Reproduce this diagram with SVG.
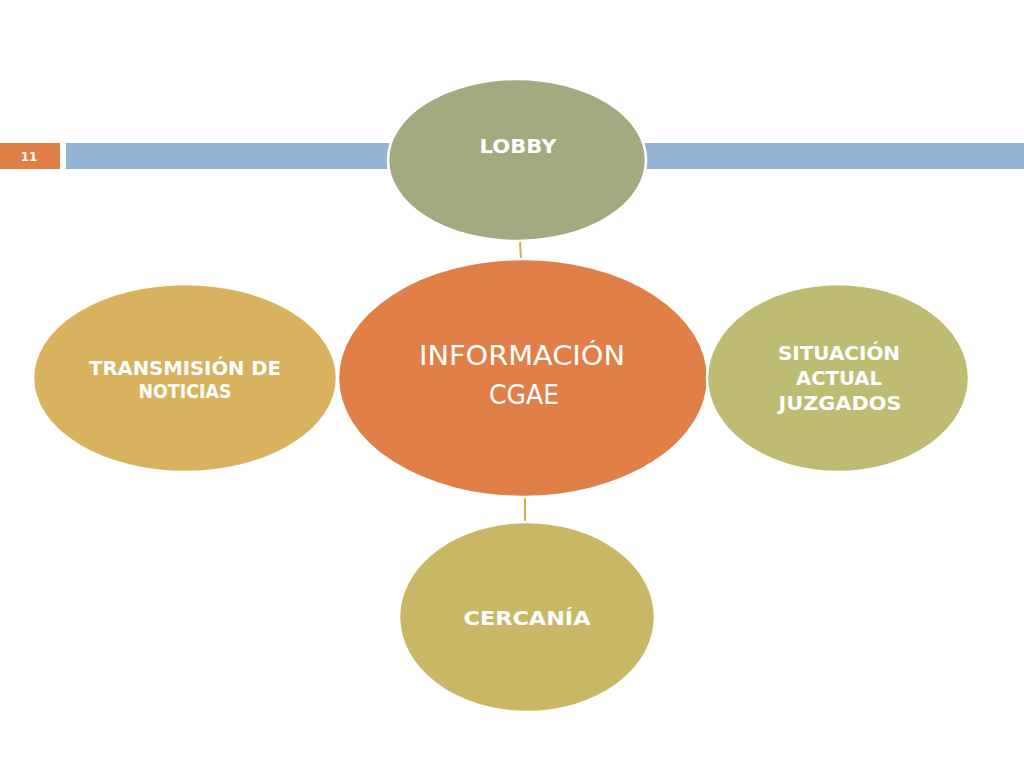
<svg xmlns="http://www.w3.org/2000/svg" width="1024" height="768" viewBox="0 0 1024 768">
<style>
.node{stroke:#ffffff;stroke-width:2.5}
.lb{font-family:"DejaVu Sans","Liberation Sans",sans-serif;font-weight:bold;font-size:19.5px;fill:#ffffff;text-anchor:middle}
.cl{font-family:"DejaVu Sans","Liberation Sans",sans-serif;font-size:26px;fill:#ffffff;text-anchor:middle}
.conn{stroke:#D9A94A;stroke-width:2;fill:none}
</style>
<rect width="1024" height="768" fill="#ffffff"/>
<g id="header">
<rect x="0" y="143" width="60" height="26" fill="#E07F47"/>
<text x="29" y="161" font-family="DejaVu Sans, sans-serif" font-weight="bold" font-size="12" fill="#ffffff" text-anchor="middle">11</text>
<rect x="66" y="143" width="958" height="26" fill="#94B4D3"/>
</g>
<g id="connectors">
<line class="conn" x1="520" y1="241" x2="521" y2="259"/>
<line class="conn" x1="525" y1="497" x2="525" y2="522"/>
</g>
<g id="node-lobby">
<ellipse class="node" cx="517" cy="160" rx="129" ry="81" fill="#A4AA80"/>
<text class="lb" x="518" y="153" textLength="77" lengthAdjust="spacingAndGlyphs">LOBBY</text>
</g>
<g id="node-informacion">
<ellipse class="node" cx="523" cy="378" rx="185" ry="119" fill="#E07F47"/>
<text class="cl" x="522" y="365" textLength="206" lengthAdjust="spacingAndGlyphs">INFORMACIÓN</text>
<text class="cl" x="524" y="404" textLength="70" lengthAdjust="spacingAndGlyphs">CGAE</text>
</g>
<g id="node-transmision">
<ellipse class="node" cx="185" cy="378" rx="152" ry="94" fill="#D8B25E"/>
<text class="lb" x="185" y="375" textLength="192" lengthAdjust="spacingAndGlyphs">TRANSMISIÓN DE</text>
<text class="lb" x="185" y="398" textLength="93" lengthAdjust="spacingAndGlyphs">NOTICIAS</text>
</g>
<g id="node-situacion">
<ellipse class="node" cx="838" cy="378" rx="131" ry="94" fill="#BDBC72"/>
<text class="lb" x="839" y="360" textLength="122" lengthAdjust="spacingAndGlyphs">SITUACIÓN</text>
<text class="lb" x="839" y="385" textLength="86" lengthAdjust="spacingAndGlyphs">ACTUAL</text>
<text class="lb" x="840" y="410" textLength="123" lengthAdjust="spacingAndGlyphs">JUZGADOS</text>
</g>
<g id="node-cercania">
<ellipse class="node" cx="527" cy="617" rx="128" ry="95" fill="#C8B866"/>
<text class="lb" x="527" y="625" textLength="127" lengthAdjust="spacingAndGlyphs">CERCANÍA</text>
</g>
</svg>
